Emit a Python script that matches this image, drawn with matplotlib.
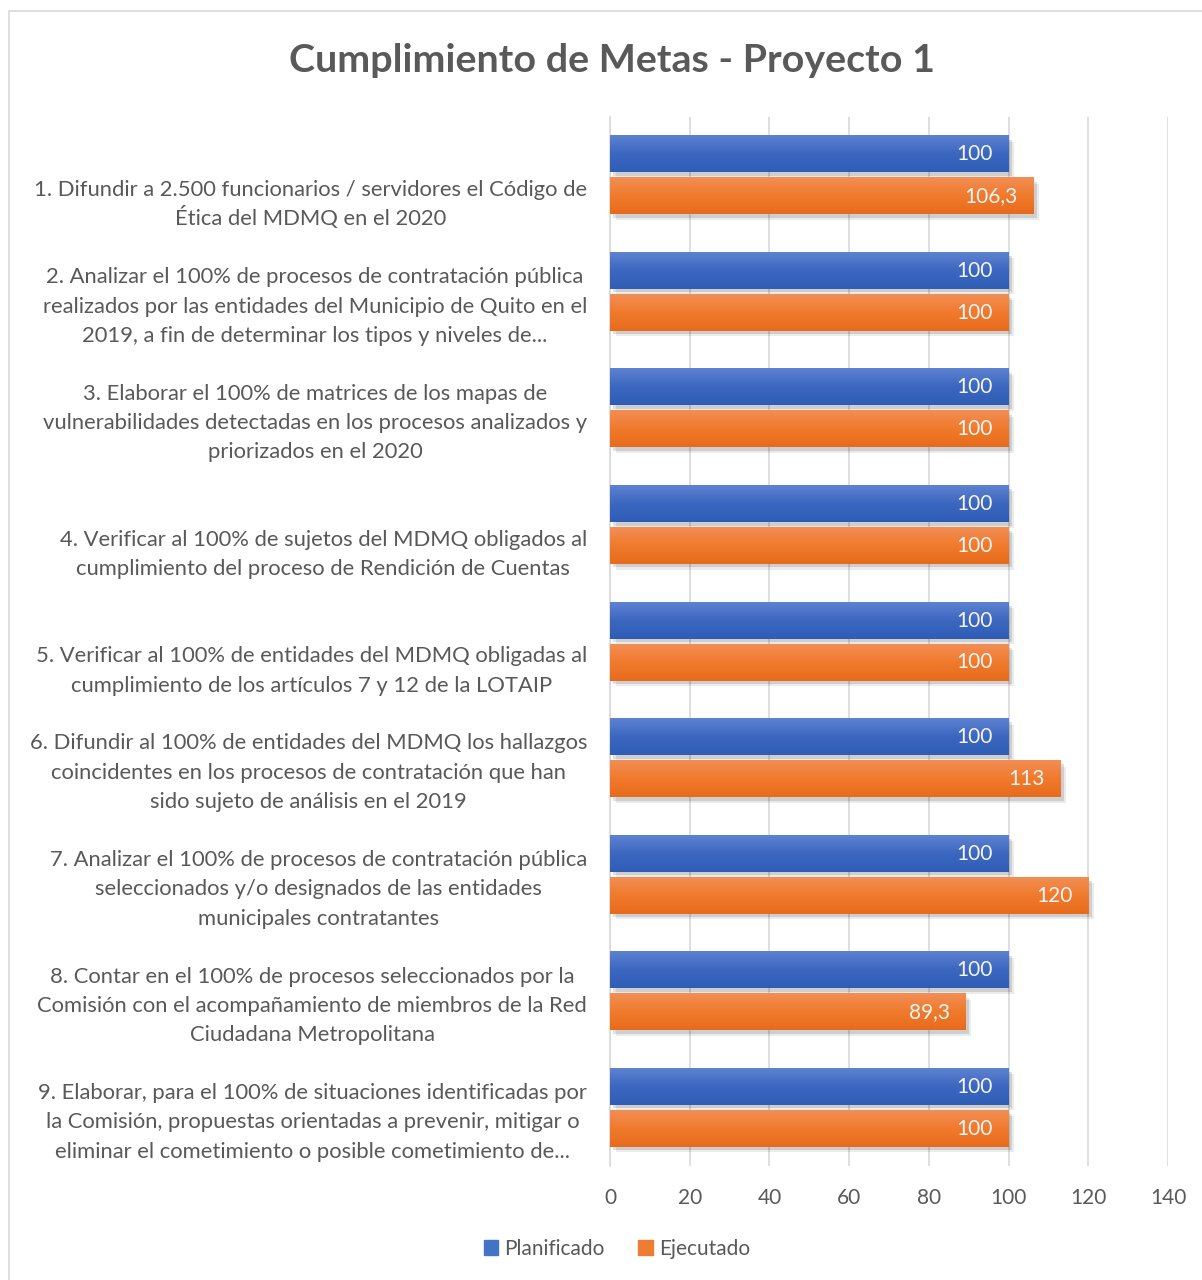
import numpy as np
import matplotlib
matplotlib.use('Agg')
import matplotlib.pyplot as plt
import matplotlib.patheffects as pe
import matplotlib.transforms as mtransforms
from matplotlib.colors import LinearSegmentedColormap
from matplotlib.patches import Rectangle, Patch

plt.rcParams['font.family'] = ['Lato', 'DejaVu Sans']

categories = [
    "1. Difundir a 2.500 funcionarios / servidores el Código de\nÉtica del MDMQ en el 2020",
    "2. Analizar el 100% de procesos de contratación pública\nrealizados por las entidades del Municipio de Quito en el\n2019, a fin de determinar los tipos y niveles de...",
    "3. Elaborar el 100% de matrices de los mapas de\nvulnerabilidades detectadas en los procesos analizados y\npriorizados en el 2020",
    "4. Verificar al 100% de sujetos del MDMQ obligados al\ncumplimiento del proceso de Rendición de Cuentas",
    "5. Verificar al 100% de entidades del MDMQ obligadas al\ncumplimiento de los artículos 7 y 12 de la LOTAIP",
    "6. Difundir al 100% de entidades del MDMQ los hallazgos\ncoincidentes en los procesos de contratación que han\nsido sujeto de análisis en el 2019",
    "7. Analizar el 100% de procesos de contratación pública\nseleccionados y/o designados de las entidades\nmunicipales contratantes",
    "8. Contar en el 100% de procesos seleccionados por la\nComisión con el acompañamiento de miembros de la Red\nCiudadana Metropolitana",
    "9. Elaborar, para el 100% de situaciones identificadas por\nla Comisión, propuestas orientadas a prevenir, mitigar o\neliminar el cometimiento o posible cometimiento de...",
]
planificado = [100, 100, 100, 100, 100, 100, 100, 100, 100]
ejecutado = [106.3, 100, 100, 100, 100, 113, 120, 89.3, 100]
x_ticks = [0, 20, 40, 60, 80, 100, 120, 140]

GRAY = '#595959'
BLUE = '#4472C4'
ORANGE = '#ED7D31'
blue_cmap = LinearSegmentedColormap.from_list('b', ['#5E82D2', '#3C67C0', '#2F5DB6'])
orange_cmap = LinearSegmentedColormap.from_list('o', ['#F28E55', '#F07A2C', '#E86B1C'])

fig = plt.figure(figsize=(12.02, 12.8), dpi=100)
fig.patches.append(Rectangle((9 / 1202, -0.05), 1.2, 1 - 11 / 1280 + 0.05,
                             transform=fig.transFigure, fill=False,
                             edgecolor='#d9d9d9', linewidth=1.2))
ax = fig.add_axes([610 / 1202, 1 - 1166 / 1280, 558 / 1202, 1049 / 1280])

y = np.arange(len(categories))
h = 0.31
off = 0.18
grad = np.linspace(0, 1, 64).reshape(-1, 1)


def fmt(v):
    return f"{v:g}".replace('.', ',')


for vals, sign, color, cmap in [(planificado, -1, BLUE, blue_cmap),
                                (ejecutado, 1, ORANGE, orange_cmap)]:
    yy = y + sign * off
    bars = ax.barh(yy, vals, height=h, color=color, zorder=2)
    for b in bars:
        b.set_path_effects([pe.SimplePatchShadow(offset=(4, -4), alpha=0.08,
                                                 shadow_rgbFace='#000000'),
                            pe.SimplePatchShadow(offset=(2.5, -2.5), alpha=0.12,
                                                 shadow_rgbFace='#000000'),
                            pe.Normal()])
    # vertical gradient fill over each bar
    for yi, v in zip(yy, vals):
        ax.imshow(grad, extent=(0, v, yi + h / 2, yi - h / 2), origin='upper',
                  aspect='auto', cmap=cmap, zorder=3, interpolation='bilinear')
        ax.text(v - 4, yi, fmt(v), ha='right', va='center', color='#f5f5f5',
                fontsize=15, zorder=4)

ax.set_xlim(0, 140)
ax.set_ylim(len(categories) - 0.5, -0.5)
ax.set_xticks(x_ticks)
ax.set_xticklabels([str(t) for t in x_ticks])
ax.set_yticks(y)
ax.set_yticklabels([])
ax.tick_params(axis='both', length=0, labelsize=15, colors=GRAY)
ax.tick_params(axis='x', pad=16)
ax.xaxis.grid(True, color='#d9d9d9', linewidth=1.2, zorder=0)
ax.set_axisbelow(True)
for s in ['top', 'right', 'bottom']:
    ax.spines[s].set_visible(False)
ax.spines['left'].set_color('#d9d9d9')
ax.spines['left'].set_linewidth(1.2)

# category labels: wrapped lines, block bottom-aligned, each line centred on the block
yax_tr = ax.get_yaxis_transform()
block_x = -23 / 100   # inches left of the axis (block's right edge)
line_step = 29.3 / 100
last_base = 50 / 100

fig.canvas.draw()
renderer = fig.canvas.get_renderer()
for yi, lab in zip(y, categories):
    lines = lab.split('\n')
    n = len(lines)
    widths = []
    for line in lines:
        t = fig.text(0, 0, line, fontsize=15.8)
        widths.append(t.get_window_extent(renderer).width)
        t.remove()
    block_w = max(widths) / fig.dpi
    for k, line in enumerate(lines):
        dy = last_base - (n - 1 - k) * line_step
        tr = yax_tr + mtransforms.ScaledTranslation(block_x - block_w / 2, -dy,
                                                    fig.dpi_scale_trans)
        ax.text(0, yi, line, transform=tr, ha='center', va='baseline',
                fontsize=15.8, color=GRAY)

fig.text(612 / 1202, 1 - 60 / 1280, 'Cumplimiento de Metas - Proyecto 1',
         ha='center', va='center', fontsize=28.4, fontweight='bold', color=GRAY)

handles = [Patch(color=BLUE, label='Planificado'), Patch(color=ORANGE, label='Ejecutado')]
fig.legend(handles=handles, loc='center', bbox_to_anchor=(617 / 1202, 1 - 1249 / 1280),
           ncol=2, frameon=False, fontsize=15, labelcolor=GRAY, handlelength=0.7,
           handleheight=0.7, handletextpad=0.3, columnspacing=1.6)

fig.savefig('out.png', dpi=100)
